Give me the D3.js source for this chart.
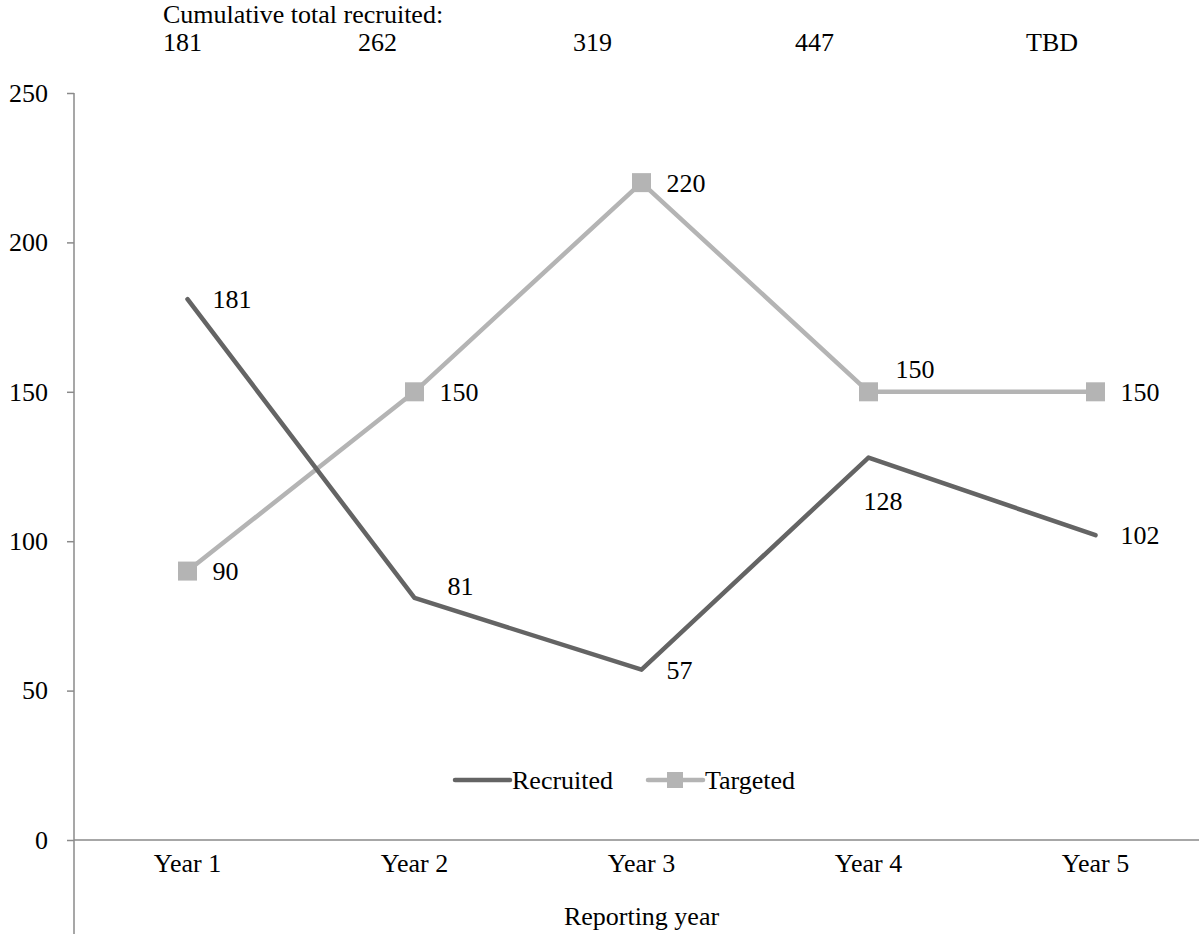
<!DOCTYPE html>
<html>
<head>
<meta charset="utf-8">
<script src="https://cdn.jsdelivr.net/npm/d3@7"></script>
<style>
  html, body { margin: 0; padding: 0; background: #fff; }
  svg { display: block; font-family: "Liberation Serif", "Times New Roman", serif; }
</style>
</head>
<body>
<svg id="chart" width="1199" height="934"></svg>
<script>
// ---- data ----
const years = ["Year 1", "Year 2", "Year 3", "Year 4", "Year 5"];
const recruited = [181, 81, 57, 128, 102];
const targeted = [90, 150, 220, 150, 150];
const cumulativeTotals = ["181", "262", "319", "447", "TBD"];
const yTicks = [0, 50, 100, 150, 200, 250];

// ---- layout ----
const W = 1199, H = 934;
const plot = { left: 74, top: 93, bottom: 840, step: 227 };
const fontSize = 26;
const cumulativeX = [163, 358, 573, 795, 1026];
// where each point label sits relative to its point
const recruitedPlacement = ["right", "aboveRight", "right", "belowRight", "right"];
const targetedPlacement = ["right", "right", "right", "aboveRightFar", "right"];

const colors = { recruited: "#646464", targeted: "#b4b4b4", axis: "#8a8a8a", text: "#000" };

const svg = d3.select("#chart");

const x = d3.scaleBand()
  .domain(years)
  .range([plot.left, plot.left + plot.step * years.length])
  .paddingInner(0).paddingOuter(0);
const cx = d => x(d) + x.bandwidth() / 2;

const y = d3.scaleLinear().domain([0, 250]).range([plot.bottom, plot.top]);

// ---- axes ----
const yAxis = svg.append("g")
  .attr("transform", `translate(${plot.left},0)`)
  .call(d3.axisLeft(y).tickValues(yTicks).tickSize(7).tickPadding(19).tickSizeOuter(0));
yAxis.select(".domain").remove();
yAxis.selectAll(".tick line").attr("stroke", colors.axis).attr("stroke-width", 1.5);
yAxis.selectAll(".tick text")
  .attr("font-size", fontSize).attr("fill", colors.text)
  .attr("font-family", "Liberation Serif");
// vertical axis line continues to the bottom edge
svg.append("line")
  .attr("x1", plot.left).attr("x2", plot.left)
  .attr("y1", y(250)).attr("y2", H)
  .attr("stroke", colors.axis).attr("stroke-width", 1.5);

const xAxis = svg.append("g")
  .attr("transform", `translate(0,${plot.bottom})`)
  .call(d3.axisBottom(x).tickSize(0).tickPadding(14).tickSizeOuter(0));
xAxis.select(".domain").remove();
xAxis.selectAll(".tick text")
  .attr("font-size", fontSize).attr("fill", colors.text)
  .attr("font-family", "Liberation Serif");
svg.append("line")
  .attr("x1", plot.left).attr("x2", W)
  .attr("y1", plot.bottom).attr("y2", plot.bottom)
  .attr("stroke", colors.axis).attr("stroke-width", 1.5);

svg.append("text")
  .attr("x", cx("Year 3")).attr("y", 925)
  .attr("text-anchor", "middle").attr("font-size", fontSize)
  .text("Reporting year");

// ---- cumulative header ----
svg.append("text")
  .attr("x", cumulativeX[0]).attr("y", 23)
  .attr("font-size", fontSize)
  .text("Cumulative total recruited:");
svg.append("g").selectAll("text")
  .data(cumulativeTotals)
  .join("text")
  .attr("x", (d, i) => cumulativeX[i]).attr("y", 51)
  .attr("font-size", fontSize)
  .text(d => d);

// ---- series ----
const line = d3.line().x((d, i) => cx(years[i])).y(d => y(d));

svg.append("path")
  .datum(targeted)
  .attr("d", line)
  .attr("fill", "none").attr("stroke", colors.targeted)
  .attr("stroke-width", 4.5).attr("stroke-linejoin", "round");

const markerSize = 19;
svg.append("g").selectAll("rect")
  .data(targeted)
  .join("rect")
  .attr("x", (d, i) => cx(years[i]) - markerSize / 2)
  .attr("y", d => y(d) - markerSize / 2)
  .attr("width", markerSize).attr("height", markerSize)
  .attr("fill", colors.targeted);

svg.append("path")
  .datum(recruited)
  .attr("d", line)
  .attr("fill", "none").attr("stroke", colors.recruited)
  .attr("stroke-width", 4.5).attr("stroke-linejoin", "round").attr("stroke-linecap", "round");

// ---- point labels ----
function placeLabel(sel, placement) {
  sel.each(function (d, i) {
    const px = cx(years[i]), py = y(d);
    const t = d3.select(this).attr("text-anchor", "start");
    switch (placement[i]) {
      case "aboveRightFar":
        t.attr("x", px + 27).attr("y", py - 14); break;
      case "belowRight":
        t.attr("x", px - 5).attr("y", py + 52); break;
      case "aboveRight":
        t.attr("x", px + 33).attr("y", py - 3); break;
      default:
        t.attr("x", px + 25).attr("y", py + 9);
    }
  });
}

svg.append("g").selectAll("text")
  .data(recruited)
  .join("text")
  .attr("font-size", fontSize)
  .text(d => d)
  .call(placeLabel, recruitedPlacement);

svg.append("g").selectAll("text")
  .data(targeted)
  .join("text")
  .attr("font-size", fontSize)
  .text(d => d)
  .call(placeLabel, targetedPlacement);

// ---- legend ----
const legend = svg.append("g").attr("transform", "translate(0,780)");
legend.append("line")
  .attr("x1", 455).attr("x2", 510).attr("y1", 0).attr("y2", 0)
  .attr("stroke", colors.recruited).attr("stroke-width", 4.5).attr("stroke-linecap", "round");
legend.append("text").attr("x", 512).attr("y", 9).attr("font-size", fontSize).text("Recruited");
legend.append("line")
  .attr("x1", 648).attr("x2", 703).attr("y1", 0).attr("y2", 0)
  .attr("stroke", colors.targeted).attr("stroke-width", 4.5).attr("stroke-linecap", "round");
legend.append("rect")
  .attr("x", 667).attr("y", -8).attr("width", 16).attr("height", 16)
  .attr("fill", colors.targeted);
legend.append("text").attr("x", 705).attr("y", 9).attr("font-size", fontSize).text("Targeted");
</script>
</body>
</html>
